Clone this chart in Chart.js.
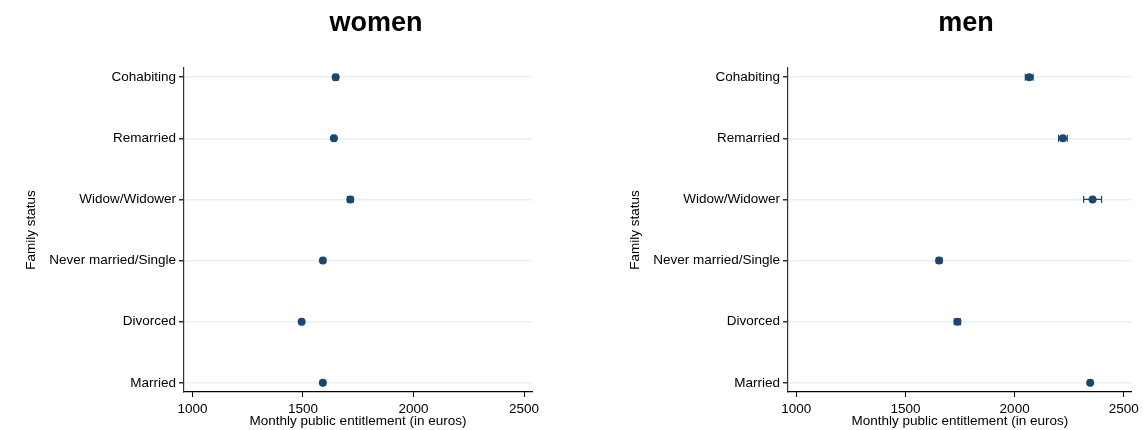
<!DOCTYPE html>
<html>
<head>
<meta charset="utf-8">
<script src="https://cdn.jsdelivr.net/npm/chart.js@4.4.0/dist/chart.umd.min.js"></script>
<style>
  body { margin: 0; background: #fff; }
  #wrap { position: relative; width: 1143px; height: 430px; }
  #c1 { position: absolute; left: 0; top: 0; }
  #c2 { position: absolute; left: 604px; top: 0; }
</style>
</head>
<body>
<div id="wrap">
  <canvas id="c1" width="560" height="430"></canvas>
  <canvas id="c2" width="539" height="430"></canvas>
</div>
<script>
const categories = ['Married', 'Divorced', 'Never married/Single', 'Widow/Widower', 'Remarried', 'Cohabiting'];
const xTicks = [1000, 1500, 2000, 2500];

const womenMean = [1590, 1494, 1590, 1714, 1640, 1648];
const womenLow  = [1586, 1488, 1582, 1702, 1632, 1638];
const womenHigh = [1594, 1500, 1598, 1726, 1648, 1658];

const menMean = [2346, 1738, 1654, 2357, 2221, 2067];
const menLow  = [2340, 1724, 1642, 2316, 2201, 2049];
const menHigh = [2352, 1752, 1666, 2398, 2241, 2085];

const navy = '#1a476f';
const font = "'Liberation Sans', Arial, Helvetica, sans-serif";

// error bars drawn from the scales, under the dots
const errorBars = {
  id: 'errorBars',
  beforeDatasetsDraw(chart, args, opts) {
    const { ctx, scales: { x, y } } = chart;
    ctx.save();
    ctx.strokeStyle = navy;
    ctx.lineWidth = 1.2;
    opts.low.forEach((lo, i) => {
      const x0 = x.getPixelForValue(lo);
      const x1 = x.getPixelForValue(opts.high[i]);
      const py = y.getPixelForValue(i);
      ctx.beginPath();
      ctx.moveTo(x0, py); ctx.lineTo(x1, py);
      ctx.moveTo(x0, py - 3.5); ctx.lineTo(x0, py + 3.5);
      ctx.moveTo(x1, py - 3.5); ctx.lineTo(x1, py + 3.5);
      ctx.stroke();
    });
    ctx.restore();
  }
};

const panelTitle = {
  id: 'panelTitle',
  afterDraw(chart, args, opts) {
    const { ctx } = chart;
    ctx.save();
    ctx.font = 'bold 27px ' + font;
    ctx.fillStyle = '#000';
    ctx.textAlign = 'center';
    ctx.textBaseline = 'middle';
    ctx.fillText(opts.text, opts.x, 24);
    ctx.restore();
  }
};

function makePanel(canvas, title, titleX, mean, low, high, padRight) {
  return new Chart(canvas, {
    type: 'scatter',
    data: {
      datasets: [{
        data: mean.map((v, i) => ({ x: v, y: i })),
        backgroundColor: navy,
        borderWidth: 0,
        pointRadius: 4,
        pointHoverRadius: 4
      }]
    },
    options: {
      responsive: false,
      devicePixelRatio: 1,
      animation: false,
      layout: { padding: { top: 68, right: padRight, bottom: 0, left: 0 } },
      plugins: {
        legend: { display: false },
        tooltip: { enabled: false },
        errorBars: { low: low, high: high },
        panelTitle: { text: title, x: titleX }
      },
      scales: {
        x: {
          type: 'linear',
          min: 962,
          max: 2536,
          afterBuildTicks: s => { s.ticks = xTicks.map(v => ({ value: v })); },
          afterFit: s => { s.height = 38; },
          grid: { drawOnChartArea: false, drawTicks: true, tickLength: 5, tickColor: '#000' },
          border: { color: '#000', width: 1.2 },
          ticks: {
            color: '#000',
            font: { family: font, size: 13.5 },
            padding: 4,
            maxRotation: 0,
            callback: v => String(v)
          },
          title: {
            display: true,
            text: 'Monthly public entitlement (in euros)',
            color: '#000',
            font: { family: font, size: 13.5 },
            padding: { top: 0, bottom: 1 }
          }
        },
        y: {
          type: 'linear',
          min: -0.15,
          max: 5.15,
          afterBuildTicks: s => { s.ticks = categories.map((c, i) => ({ value: i })); },
          afterFit: s => { s.width = 184; },
          grid: { color: '#eaf0f2', lineWidth: 1.5, tickLength: 5, tickColor: '#333' },
          border: { color: '#333', width: 1.2 },
          ticks: {
            color: '#000',
            font: { family: font, size: 13.5 },
            padding: 3,
            callback: v => categories[v]
          },
          title: {
            display: true,
            text: 'Family status',
            color: '#000',
            font: { family: font, size: 13.5 },
            padding: { top: 23, bottom: 0 }
          }
        }
      }
    },
    plugins: [errorBars, panelTitle]
  });
}

makePanel(document.getElementById('c1'), 'women', 376, womenMean, womenLow, womenHigh, 28);
makePanel(document.getElementById('c2'), 'men', 362, menMean, menLow, menHigh, 8);
</script>
</body>
</html>
